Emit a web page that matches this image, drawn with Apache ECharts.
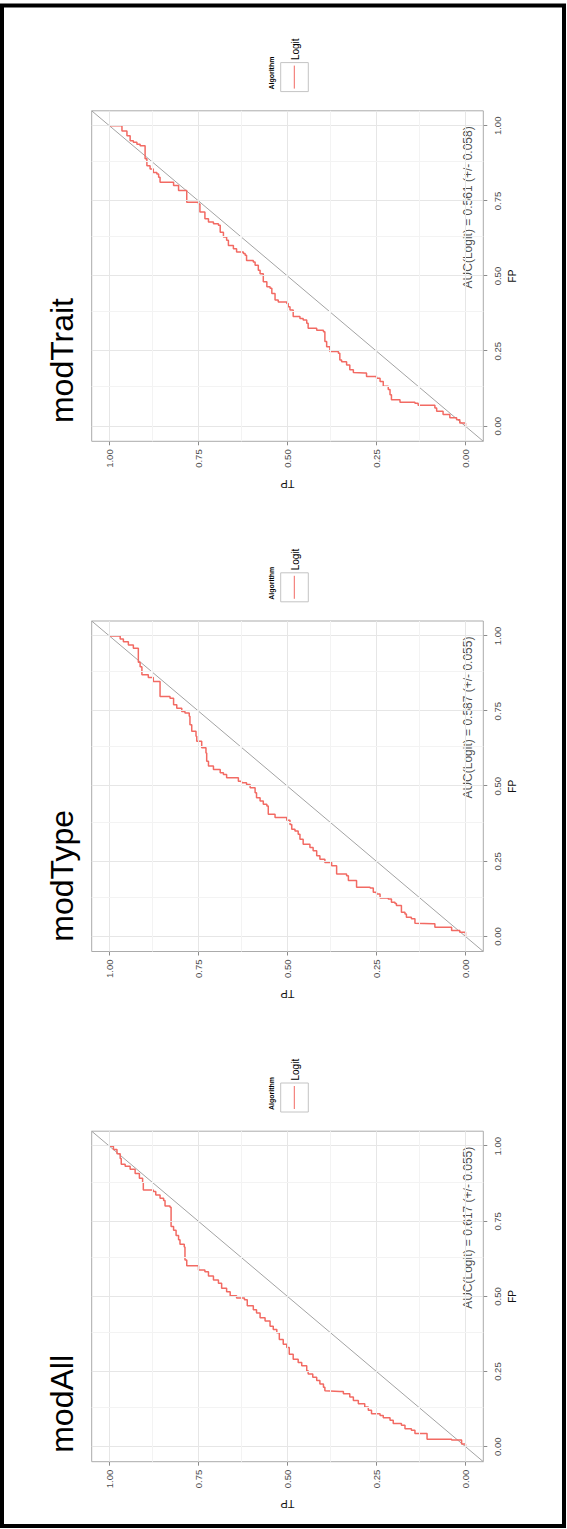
<!DOCTYPE html>
<html><head><meta charset="utf-8">
<script src="https://cdn.jsdelivr.net/npm/echarts@6/dist/echarts.min.js"></script>
<style>
html,body{margin:0;padding:0;background:#fff;overflow:hidden;width:567px;height:1529px;}
#rot{position:absolute;left:0;top:0;width:1529px;height:567px;transform-origin:0 0;transform:translate(0,1529px) rotate(-90deg);}
</style></head><body>
<div id="rot"></div>
<script>
// ---- data ----
const panelNames = ['modAll', 'modType', 'modTrait'];
const aucLabels = ['AUC(Logit) = 0.617 (+/- 0.055)', 'AUC(Logit) = 0.587 (+/- 0.055)', 'AUC(Logit) = 0.561 (+/- 0.058)'];
const legendTitle = 'Algorithm';
const legendLabel = 'Logit';
const tickValues = [0, 0.25, 0.5, 0.75, 1];
const minorValues = [0.125, 0.375, 0.625, 0.875];
const refLine = [[-0.05, -0.05], [1.05, 1.05]];

const fpAll = [0,.009,.022,.025,.041,.044,.055,.060,.071,.077,.088,.096,.104,.110,.121,.132,.143,.154,.165,.176,.184,.186,.198,.209,.220,.231,.242,.253,.269,.280,.291,.308,.330,.341,.357,.379,.390,.401,.418,.429,.445,.456,.469,.489,.495,.502,.516,.527,.544,.555,.568,.582,.588,.602,.621,.665,.674,.689,.703,.720,.733,.797,.801,.819,.827,.838,.849,.854,.879,.893,.909,.923,.933,.940,.959,.975,.989,1];
const tpAll = [0,.011,.039,.108,.108,.142,.152,.170,.180,.203,.212,.231,.240,.264,.273,.283,.301,.315,.325,.343,.353,.395,.399,.409,.418,.429,.442,.446,.460,.470,.484,.495,.502,.512,.523,.530,.540,.549,.563,.577,.587,.596,.613,.621,.643,.661,.671,.685,.694,.708,.722,.732,.750,.783,.788,.790,.802,.806,.813,.820,.827,.830,.844,.848,.858,.870,.877,.905,.907,.916,.928,.942,.956,.967,.970,.979,.989,1];

const fpType = [0,.014,.020,.031,.031,.042,.044,.059,.064,.075,.081,.103,.110,.114,.125,.128,.141,.147,.161,.164,.180,.186,.202,.208,.230,.235,.246,.257,.269,.285,.296,.307,.324,.340,.351,.357,.373,.387,.396,.407,.434,.440,.451,.462,.478,.495,.506,.512,.517,.528,.539,.545,.556,.567,.583,.611,.628,.650,.666,.683,.705,.733,.744,.749,.760,.771,.793,.799,.843,.849,.862,.871,.898,.913,.954,.959,.970,.981,.990,1];
const tpType = [0,.016,.039,.044,.086,.091,.142,.152,.166,.170,.180,.194,.198,.208,.217,.240,.250,.259,.268,.306,.306,.329,.334,.362,.362,.376,.395,.409,.418,.428,.437,.456,.465,.470,.479,.488,.493,.502,.535,.554,.558,.568,.577,.587,.591,.605,.615,.629,.638,.671,.680,.689,.708,.722,.727,.729,.741,.755,.757,.769,.774,.776,.788,.797,.811,.820,.830,.858,.858,.877,.891,.909,.914,.919,.919,.933,.947,.961,.970,1];

const fpTrait = [0,.011,.022,.028,.039,.050,.061,.070,.077,.080,.088,.105,.122,.133,.149,.160,.166,.177,.179,.188,.204,.215,.221,.243,.249,.265,.282,.315,.320,.326,.343,.354,.359,.365,.387,.398,.409,.414,.420,.442,.459,.464,.481,.508,.519,.536,.547,.552,.569,.575,.580,.591,.602,.619,.630,.646,.669,.674,.680,.691,.713,.740,.746,.773,.785,.801,.812,.812,.829,.840,.845,.856,.867,.890,.928,.934,.939,.945,.950,.967,.983,1];
const tpTrait = [0,.016,.025,.044,.063,.081,.086,.133,.142,.184,.208,.212,.217,.231,.240,.250,.278,.283,.315,.325,.334,.348,.353,.357,.381,.390,.395,.399,.418,.442,.446,.456,.465,.484,.493,.498,.502,.526,.535,.544,.549,.558,.568,.577,.582,.591,.596,.615,.619,.624,.643,.652,.666,.671,.680,.689,.694,.708,.722,.732,.746,.750,.783,.783,.806,.820,.820,.858,.862,.867,.877,.886,.895,.900,.900,.914,.923,.933,.942,.951,.965,1];

// ---- layout (landscape coordinates; the whole chart is rotated -90deg) ----
const FONT = '"Liberation Sans", Arial, Helvetica, sans-serif';
const RED = '#F26A63';
const curves = [[fpAll, tpAll], [fpType, tpType], [fpTrait, tpTrait]];
const panelLeft = [67.3, 577.5, 1087.7];
const gridTop = 91.7, gridW = 330.5, gridH = 391.6;
const titleEndX = [174, 719, 1231];

const chart = echarts.init(document.getElementById('rot'), null, {renderer: 'svg', width: 1529, height: 567});

const grids = [], xAxes = [], yAxes = [], series = [], graphics = [];
panelLeft.forEach((L, i) => {
  grids.push({left: L, top: gridTop, width: gridW, height: gridH, show: true,
    borderColor: '#ABABAB', borderWidth: 1, backgroundColor: '#fff', containLabel: false, outerBoundsMode: 'none'});
  const axisCommon = {
    type: 'value', gridIndex: i, min: -0.05, max: 1.05,
    axisLine: {show: false, onZero: false},
    axisTick: {show: true, customValues: tickValues, length: 4, lineStyle: {color: '#8c8c8c', width: 1}},
    splitLine: {show: false},
    nameLocation: 'middle'
  };
  xAxes.push(Object.assign({}, axisCommon, {
    axisLabel: {customValues: tickValues, formatter: v => v.toFixed(2), fontSize: 9.5, color: '#4d4d4d', margin: 9, fontFamily: FONT},
    name: 'FP', nameGap: 17, nameTextStyle: {fontSize: 10, color: '#111', fontFamily: FONT}
  }));
  yAxes.push(Object.assign({}, axisCommon, {
    axisLabel: {customValues: tickValues, formatter: v => v.toFixed(2), fontSize: 9.5, color: '#4d4d4d', margin: 8, fontFamily: FONT},
    name: 'TP', nameRotate: 90, nameGap: 37, nameTextStyle: {fontSize: 11, color: '#111', fontFamily: FONT}
  }));

  const gl = [];
  tickValues.forEach(v => { gl.push({xAxis: v, lineStyle: {color: '#E6E6E6'}}); gl.push({yAxis: v, lineStyle: {color: '#E6E6E6'}}); });
  minorValues.forEach(v => { gl.push({xAxis: v, lineStyle: {color: '#F3F3F3'}}); gl.push({yAxis: v, lineStyle: {color: '#F3F3F3'}}); });
  series.push({type: 'line', xAxisIndex: i, yAxisIndex: i, data: [], z: 1, silent: true,
    markLine: {symbol: ['none', 'none'], silent: true, animation: false, label: {show: false},
      lineStyle: {type: 'solid', width: 1}, emphasis: {disabled: true}, data: gl}});
  series.push({type: 'line', xAxisIndex: i, yAxisIndex: i, data: refLine, showSymbol: false, silent: true, z: 2,
    lineStyle: {color: '#A3A3A3', width: 1}});
  const [fp, tp] = curves[i];
  series.push({type: 'line', xAxisIndex: i, yAxisIndex: i, step: 'end', data: fp.map((x, k) => [x, tp[k]]),
    showSymbol: false, silent: true, z: 3, lineStyle: {color: RED, width: 1.5}});
  series.push({type: 'scatter', xAxisIndex: i, yAxisIndex: i, data: [[1, 0]], symbolSize: 1, silent: true, z: 4,
    itemStyle: {color: 'rgba(0,0,0,0)'},
    label: {show: true, position: 'left', distance: 0, offset: [0, 2], formatter: aucLabels[i], fontSize: 12, color: '#222', fontFamily: FONT}});

  // title
  graphics.push({type: 'text', x: titleEndX[i], y: 62, style: {text: panelNames[i], font: '32px ' + FONT, fill: '#000', textAlign: 'right', textVerticalAlign: 'middle'}});
  // legend
  graphics.push({type: 'text', x: L + 351.7, y: 271.5, style: {text: legendTitle, font: 'bold 7px ' + FONT, fill: '#000', textAlign: 'left', textVerticalAlign: 'middle'}});
  graphics.push({type: 'rect', shape: {x: L + 349.7, y: 280.7, width: 29, height: 27.6}, style: {fill: '#fff', stroke: '#C4C4C4', lineWidth: 1}});
  graphics.push({type: 'line', shape: {x1: L + 352.7, y1: 294.3, x2: L + 375.7, y2: 294.3}, style: {stroke: RED, lineWidth: 1}});
  graphics.push({type: 'text', x: L + 381.2, y: 295, style: {text: legendLabel, font: '10px ' + FONT, fill: '#000', textAlign: 'left', textVerticalAlign: 'middle'}});
});
// outer frame
graphics.push({type: 'rect', shape: {x: 3, y: 2, width: 1520.5, height: 562}, style: {fill: 'none', stroke: '#000', lineWidth: 4}, z: 100});

chart.setOption({
  animation: false,
  backgroundColor: '#fff',
  textStyle: {fontFamily: FONT},
  grid: grids, xAxis: xAxes, yAxis: yAxes, series: series, graphic: graphics
});
</script>
</body></html>
